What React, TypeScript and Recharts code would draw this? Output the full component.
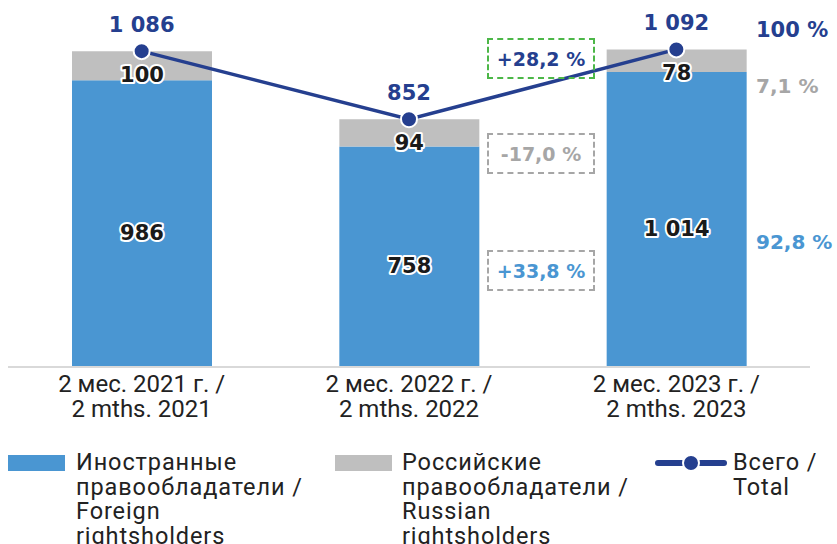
import React from "react"
import { ComposedChart, Bar, Line, XAxis, YAxis, LabelList } from "recharts"

const periodsRu = ["2 мес. 2021 г. /", "2 мес. 2022 г. /", "2 мес. 2023 г. /"]
const periodsEn = ["2 mths. 2021", "2 mths. 2022", "2 mths. 2023"]
const foreign = [986, 758, 1014]
const russian = [100, 94, 78]
const total = [1086, 852, 1092]

const BLUE = "#4a96d2"
const GREY = "#bfbfbf"
const NAVY = "#253f8f"
const BOLD = "'DejaVu Sans', sans-serif"
const REG = "Roboto, sans-serif"

const data = periodsRu.map((ru, i) => ({
  ru,
  en: periodsEn[i],
  foreign: foreign[i],
  russian: russian[i],
  total: total[i],
}))

const fmt = (v: number) => {
  const s = String(v)
  return s.length > 3 ? s.slice(0, s.length - 3) + " " + s.slice(-3) : s
}

const OutlinedLabel = (dy: number, center: boolean) => (props: any) => {
  const { x, y, width, height, value } = props
  const cy = center ? y + height / 2 + dy : y + dy
  return (
    <text
      x={x + width / 2}
      y={cy}
      textAnchor="middle"
      dominantBaseline="central"
      fontFamily={BOLD}
      fontWeight={700}
      fontSize={21}
      fill="#1a1a1a"
      stroke="#fff"
      strokeWidth={4}
      strokeLinejoin="round"
      paintOrder="stroke"
    >
      {fmt(value)}
    </text>
  )
}

const TotalLabel = (props: any) => {
  const { x, y, value } = props
  return (
    <text x={x} y={y - 26} textAnchor="middle" dominantBaseline="central" fontFamily={BOLD} fontWeight={700} fontSize={21} fill={NAVY}>
      {fmt(value)}
    </text>
  )
}

const Tick = (props: any) => {
  const { x, y, index } = props
  return (
    <text x={x} textAnchor="middle" fontFamily={REG} fontSize={24} fill="#222">
      <tspan x={x} y={y + 17}>{periodsRu[index]}</tspan>
      <tspan x={x} y={y + 42}>{periodsEn[index]}</tspan>
    </text>
  )
}

const boxStyle = (color: string, textColor: string, left: number, top: number): React.CSSProperties => ({
  position: "absolute",
  left,
  top,
  width: 104,
  height: 37,
  border: `2px dashed ${color}`,
  color: textColor,
  fontFamily: BOLD,
  fontWeight: 700,
  fontSize: 19,
  display: "flex",
  alignItems: "center",
  justifyContent: "center",
  boxSizing: "content-box",
  whiteSpace: "nowrap",
})

const pctStyle = (color: string, top: number, size: number): React.CSSProperties => ({
  position: "absolute",
  left: 756,
  top,
  color,
  fontFamily: BOLD,
  fontWeight: 700,
  fontSize: size,
  lineHeight: "24px",
  whiteSpace: "nowrap",
})

const legendText: React.CSSProperties = {
  position: "absolute",
  fontFamily: REG,
  fontSize: 23.5,
  letterSpacing: 0.9,
  lineHeight: "24.5px",
  color: "#222",
  whiteSpace: "nowrap",
}

export default function App() {
  return (
    <div style={{ position: "absolute", left: 0, top: 0, width: 837, height: 544, background: "#fff", overflow: "hidden" }}>
      <ComposedChart width={837} height={440} data={data} margin={{ top: 18, right: 27, bottom: 0, left: 8 }} barCategoryGap={0}>
        <XAxis
          dataKey="ru"
          height={73}
          tick={<Tick />}
          tickLine={false}
          axisLine={{ stroke: "#d9d9d9", strokeWidth: 2 }}
          interval={0}
        />
        <YAxis hide domain={[0, 1200]} />
        <Bar dataKey="foreign" stackId="a" fill={BLUE} barSize={140} isAnimationActive={false}>
          <LabelList dataKey="foreign" content={OutlinedLabel(9, true)} />
        </Bar>
        <Bar dataKey="russian" stackId="a" fill={GREY} barSize={140} isAnimationActive={false}>
          <LabelList dataKey="russian" content={OutlinedLabel(24, false)} />
        </Bar>
        <Line
          dataKey="total"
          stroke={NAVY}
          strokeWidth={3.5}
          dot={{ r: 8, fill: NAVY, stroke: "#fff", strokeWidth: 2 }}
          isAnimationActive={false}
        >
          <LabelList dataKey="total" content={TotalLabel} />
        </Line>
      </ComposedChart>

      <div style={boxStyle("#4cb748", NAVY, 487, 38)}>+28,2 %</div>
      <div style={boxStyle("#a6a6a6", "#a6a6a6", 487, 133)}>-17,0 %</div>
      <div style={boxStyle("#a6a6a6", BLUE, 487, 250)}>+33,8 %</div>

      <div style={pctStyle(NAVY, 18, 21)}>100 %</div>
      <div style={pctStyle("#a6a6a6", 74, 20)}>7,1 %</div>
      <div style={pctStyle(BLUE, 230, 20)}>92,8 %</div>

      <div style={{ position: "absolute", left: 8, top: 455, width: 57, height: 16, background: BLUE }} />
      <div style={{ ...legendText, left: 76, top: 450 }}>
        Иностранные<br />правообладатели /<br />Foreign<br />rightsholders
      </div>
      <div style={{ position: "absolute", left: 335, top: 455, width: 57, height: 16, background: GREY }} />
      <div style={{ ...legendText, left: 402, top: 450 }}>
        Российские<br />правообладатели /<br />Russian<br />rightsholders
      </div>
      <svg style={{ position: "absolute", left: 655, top: 452 }} width={72} height={22}>
        <line x1={3} y1={11} x2={69} y2={11} stroke={NAVY} strokeWidth={6} strokeLinecap="round" />
        <circle cx={36} cy={11} r={8} fill={NAVY} stroke="#fff" strokeWidth={2} />
      </svg>
      <div style={{ ...legendText, left: 733, top: 450 }}>
        Всего /<br />Total
      </div>
    </div>
  )
}
